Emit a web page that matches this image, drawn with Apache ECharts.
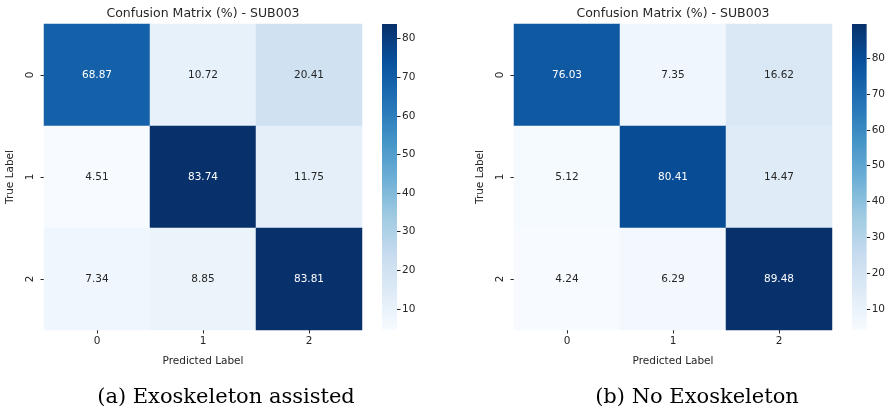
<!DOCTYPE html>
<html>
<head>
<meta charset="utf-8">
<title>Confusion Matrices</title>
<script src="https://cdn.jsdelivr.net/npm/echarts@6/dist/echarts.min.js"></script>
<style>
  html, body { margin: 0; padding: 0; background: #fff; }
  #chart { width: 888px; height: 418px; }
</style>
</head>
<body>
<div id="chart"></div>
<script>
    var classes = ['0', '1', '2'];
    // rows = true label, cols = predicted label
    var assisted = [
        [68.87, 10.72, 20.41],
        [4.51, 83.74, 11.75],
        [7.34, 8.85, 83.81]
    ];
    var noExo = [
        [76.03, 7.35, 16.62],
        [5.12, 80.41, 14.47],
        [4.24, 6.29, 89.48]
    ];
    var cbarTicks = [10, 20, 30, 40, 50, 60, 70, 80];
    var titles = ['Confusion Matrix (%) - SUB003', 'Confusion Matrix (%) - SUB003'];
    var captions = ['(a) Exoskeleton assisted', '(b) No Exoskeleton'];

    var blues = ['#f7fbff', '#deebf7', '#c6dbef', '#9ecae1', '#6baed6', '#4292c6', '#2171b5', '#08519c', '#08306b'];
    var txt = '#262626';
    var font = 'DejaVu Sans';

    function flat(m) {
        var out = [];
        m.forEach(function (r) { r.forEach(function (v) { out.push(v); }); });
        return out;
    }
    function minOf(m) { return Math.min.apply(null, flat(m)); }
    function maxOf(m) { return Math.max.apply(null, flat(m)); }
    function cells(m) {
        var lo = minOf(m), hi = maxOf(m);
        var d = [];
        for (var i = 0; i < m.length; i++) {
            for (var j = 0; j < m[i].length; j++) {
                var t = (m[i][j] - lo) / (hi - lo);
                d.push({
                    value: [j, i, m[i][j]],
                    label: { color: t > 0.55 ? '#ffffff' : txt }
                });
            }
        }
        return d;
    }
    function cbarGradient() {
        var stops = blues.map(function (c, i) {
            return { offset: i / (blues.length - 1), color: c };
        });
        // bottom (min) -> top (max)
        return new echarts.graphic.LinearGradient(0, 1, 0, 0, stops);
    }

    var mats = [assisted, noExo];
    var hmLeft = [44, 514];
    var cbLeft = [382, 852];
    var plotTop = 24, hmW = 318, hmH = 306, cbW = 15;

    var chart = echarts.init(document.getElementById('chart'));

    var option = {
        backgroundColor: '#ffffff',
        animation: false,
        title: [],
        grid: [],
        xAxis: [],
        yAxis: [],
        visualMap: [],
        series: []
    };

    mats.forEach(function (m, k) {
        option.title.push({
            text: titles[k], left: hmLeft[k] + hmW / 2, top: 7, textAlign: 'center', padding: 0,
            textStyle: { fontFamily: font, fontSize: 12.5, fontWeight: 'normal', color: txt }
        });
        option.title.push({
            text: captions[k], left: hmLeft[k] + hmW / 2 + (k === 0 ? 23 : 24), top: 387, textAlign: 'center', padding: 0,
            textStyle: { fontFamily: 'DejaVu Serif', fontSize: 21, fontWeight: 'normal', color: '#000' }
        });
        // heatmap grid
        option.grid.push({ left: hmLeft[k], top: plotTop, width: hmW, height: hmH, containLabel: false });
        // colorbar grid
        option.grid.push({ left: cbLeft[k], top: plotTop, width: cbW, height: hmH, containLabel: false });

        option.xAxis.push({
            type: 'category', data: classes, gridIndex: 2 * k,
            name: 'Predicted Label', nameLocation: 'middle', nameGap: 26,
            nameTextStyle: { fontFamily: font, fontSize: 10.5, color: txt },
            axisLine: { show: false },
            axisTick: { show: true, alignWithLabel: true, length: 3.5, lineStyle: { color: txt } },
            axisLabel: { fontFamily: font, fontSize: 10.5, color: txt, margin: 6 },
            splitLine: { show: false }
        });
        option.xAxis.push({
            type: 'category', data: ['cb'], gridIndex: 2 * k + 1, show: false
        });

        option.yAxis.push({
            type: 'category', data: classes, gridIndex: 2 * k, inverse: true,
            name: 'True Label', nameLocation: 'middle', nameGap: 28, nameRotate: 90,
            nameTextStyle: { fontFamily: font, fontSize: 10.5, color: txt },
            axisLine: { show: false },
            axisTick: { show: true, alignWithLabel: true, length: 3.5, lineStyle: { color: txt } },
            axisLabel: { fontFamily: font, fontSize: 10.5, color: txt, rotate: 90, margin: 8 },
            splitLine: { show: false }
        });
        option.yAxis.push({
            type: 'value', gridIndex: 2 * k + 1, position: 'right',
            min: minOf(m), max: maxOf(m),
            axisLine: { show: false },
            axisTick: { show: true, length: 3.5, customValues: cbarTicks, lineStyle: { color: txt } },
            axisLabel: { fontFamily: font, fontSize: 10.5, color: txt, margin: 5, customValues: cbarTicks },
            splitLine: { show: false }
        });

        option.visualMap.push({
            type: 'continuous', seriesIndex: 2 * k, min: minOf(m), max: maxOf(m),
            show: false, inRange: { color: blues }
        });

        option.series.push({
            type: 'heatmap', xAxisIndex: 2 * k, yAxisIndex: 2 * k,
            data: cells(m),
            label: {
                show: true, fontFamily: font, fontSize: 10.5,
                formatter: function (p) { return p.value[2].toFixed(2); }
            },
            itemStyle: { borderWidth: 0 },
            emphasis: { disabled: true }
        });
        // colorbar: one bar spanning the full value range
        option.series.push({
            type: 'bar', xAxisIndex: 2 * k + 1, yAxisIndex: 2 * k + 1,
            data: [maxOf(m)], barWidth: '100%', silent: true,
            itemStyle: { color: cbarGradient(), borderRadius: 0 }
        });
    });

    chart.setOption(option);
</script>
</body>
</html>
